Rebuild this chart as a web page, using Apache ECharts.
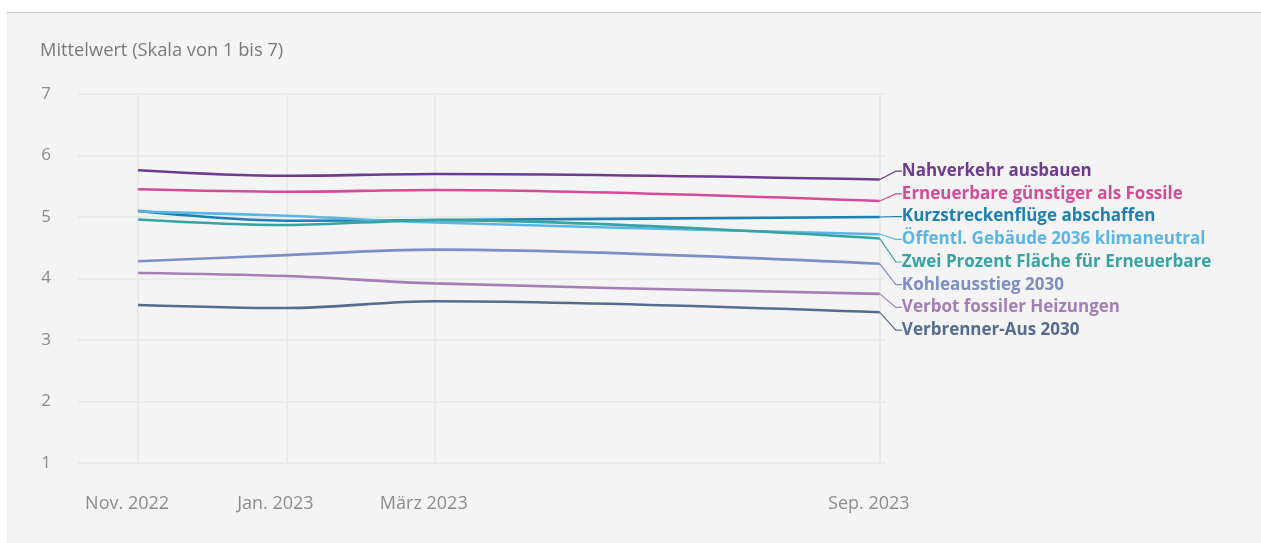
<!DOCTYPE html>
<html>
<head>
<meta charset="utf-8">
<script src="https://cdn.jsdelivr.net/npm/echarts@6/dist/echarts.min.js"></script>
<style>
html,body{margin:0;padding:0;background:#fff;}
#c{width:1261px;height:543px;}
</style>
</head>
<body>
<div id="c"></div>
<script>
// x positions as month index from Nov. 2022
const monthIndex = [0, 2, 4, 10];
const tickLabels = ['Nov. 2022', 'Jan. 2023', 'März 2023', 'Sep. 2023'];

const seriesNames = [
  'Nahverkehr ausbauen',
  'Erneuerbare günstiger als Fossile',
  'Kurzstreckenflüge abschaffen',
  'Öffentl. Gebäude 2036 klimaneutral',
  'Zwei Prozent Fläche für Erneuerbare',
  'Kohleausstieg 2030',
  'Verbot fossiler Heizungen',
  'Verbrenner-Aus 2030'
];
const nahverkehr   = [5.76, 5.67, 5.70, 5.61];
const erneuerbare  = [5.45, 5.41, 5.44, 5.26];
const kurzstrecken = [5.10, 4.94, 4.95, 5.00];
const oeffentl     = [5.09, 5.02, 4.91, 4.72];
const zweiProzent  = [4.96, 4.87, 4.95, 4.65];
const kohle        = [4.28, 4.38, 4.47, 4.24];
const verbot       = [4.09, 4.04, 3.92, 3.75];
const verbrenner   = [3.57, 3.52, 3.63, 3.45];
const seriesValues = [nahverkehr, erneuerbare, kurzstrecken, oeffentl, zweiProzent, kohle, verbot, verbrenner];
const colors = ['#6e3b8e', '#d44b96', '#1f7fb3', '#5ab6e6', '#38a3a3', '#7d8ec2', '#a47fb5', '#566c8e'];
const yTicks = [1, 2, 3, 4, 5, 6, 7];

const FONT = '"Open Sans", "Noto Sans", sans-serif';
const LABEL_STEP = 22.7;   // vertical spacing of end labels
const LABEL_LIFT = 8.3;    // first label sits a bit above its line end

const chart = echarts.init(document.getElementById('c'), null, {renderer: 'canvas'});

// end-label layout: keep labels in series order, push down to avoid overlap
let lastLabelY = -Infinity;
function endLabelLayout(params) {
  if (params.seriesIndex === 0) lastLabelY = -Infinity;
  const cy = params.rect.y + params.rect.height / 2 - LABEL_LIFT;
  const y = Math.max(cy, lastLabelY + LABEL_STEP);
  lastLabelY = y;
  return {y: y, verticalAlign: 'middle'};
}

const series = seriesNames.map((name, si) => ({
  name: name,
  type: 'line',
  smooth: 0.35,
  showSymbol: true,
  symbol: 'circle',
  symbolSize: 0.1,
  itemStyle: {color: colors[si]},
  lineStyle: {color: colors[si], width: 2.6},
  emphasis: {disabled: true},
  label: {show: false},
  labelLine: {show: true, length2: 6, smooth: false, lineStyle: {width: 1.2, color: colors[si]}},
  labelLayout: function (params) {
    if (params.dataIndex !== seriesValues[si].length - 1) return {};
    return endLabelLayout(params);
  },
  data: seriesValues[si].map((v, i) => {
    const item = {value: [monthIndex[i], v]};
    if (i === seriesValues[si].length - 1) {
      item.label = {
        show: true,
        position: 'right',
        distance: 22,
        formatter: name,
        color: colors[si],
        fontFamily: FONT,
        fontWeight: 'bold',
        fontSize: 17,
        lineHeight: 22
      };
    }
    return item;
  }),
  z: 3
}));

chart.setOption({
  backgroundColor: '#ffffff',
  animation: false,
  graphic: [
    {type: 'rect', z: -10, silent: true, shape: {x: 7, y: 12, width: 1254, height: 531}, style: {fill: '#f4f4f4'}},
    {type: 'line', z: -9, silent: true, shape: {x1: 7, y1: 12.5, x2: 1261, y2: 12.5}, style: {stroke: '#c4c4c4', lineWidth: 1}}
  ],
  title: {
    text: 'Mittelwert (Skala von 1 bis 7)',
    left: 35,
    top: 37,
    textStyle: {fontFamily: FONT, fontSize: 18.3, fontWeight: 'normal', color: '#7a7a7a'}
  },
  grid: {left: 78, right: 376, top: 94, bottom: 80, containLabel: false},
  xAxis: {
    type: 'value',
    min: -0.81,
    max: 10.07,
    axisLine: {show: false},
    axisTick: {show: false, customValues: monthIndex},
    splitLine: {show: true, lineStyle: {color: '#eaeaea', width: 2}},
    axisLabel: {
      customValues: monthIndex,
      formatter: (v) => tickLabels[monthIndex.indexOf(v)] || '',
      margin: 32,
      padding: [0, 22, 0, 0],
      fontFamily: FONT,
      fontSize: 18,
      color: '#8c8c8c'
    }
  },
  yAxis: {
    type: 'value',
    min: 1,
    max: 7,
    interval: 1,
    axisLine: {show: false},
    axisTick: {show: false},
    splitLine: {show: true, lineStyle: {color: '#eaeaea', width: 2}},
    axisLabel: {
      formatter: (v) => yTicks.includes(v) ? String(v) : '',
      margin: 27,
      fontFamily: FONT,
      fontSize: 17,
      color: '#8c8c8c'
    }
  },
  series: series
});
</script>
</body>
</html>
